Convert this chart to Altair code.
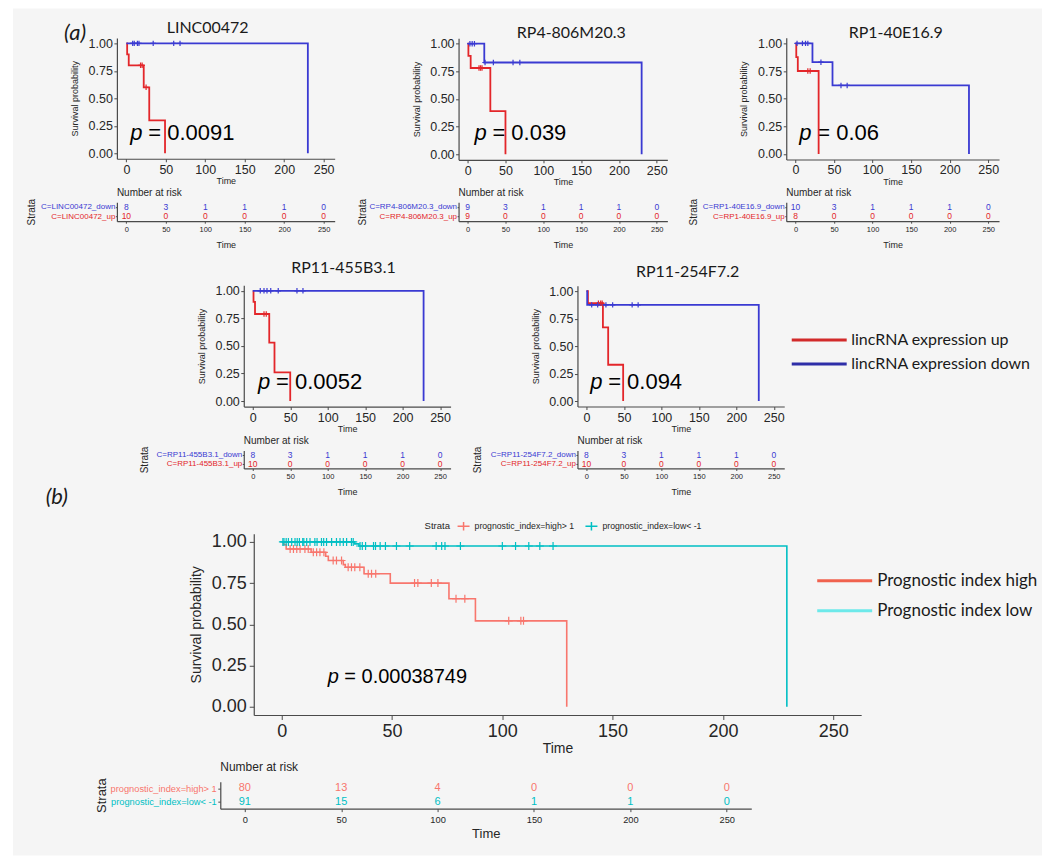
import altair as alt
import pandas as pd

# ------------------------------------------------------------------ data
BREAKS = [0, 50, 100, 150, 200, 250]

GENES = ["LINC00472", "RP4-806M20.3", "RP1-40E16.9", "RP11-455B3.1", "RP11-254F7.2"]
PVALS = ["0.0091", "0.039", "0.06", "0.0052", "0.094"]

# Kaplan-Meier steps, lincRNA expression up (red)
UP_T = [[0, 1, 3, 22, 29, 49], [0, 1, 4, 30, 50], [0, 1, 3, 30], [0, 1, 3, 22, 29, 50], [0, 2, 22, 29, 49]]
UP_S = [[1, 0.9, 0.8, 0.6, 0.3, 0], [1, 0.89, 0.78, 0.39, 0], [1, 0.875, 0.75, 0],
        [1, 0.9, 0.79, 0.53, 0.26, 0], [1, 0.89, 0.67, 0.33, 0]]
UP_CT = [[18, 20, 25], [15, 17, 19], [16, 19], [15, 18], [16, 19, 21]]
UP_CS = [[0.8, 0.8, 0.6], [0.78, 0.78, 0.78], [0.75, 0.75], [0.79, 0.79], [0.89, 0.89, 0.89]]

# Kaplan-Meier steps, lincRNA expression down (blue)
DOWN_T = [[0, 230], [0, 22, 230], [0, 22, 48, 225], [0, 228], [0, 1, 230]]
DOWN_S = [[1, 0], [1, 0.83, 0], [1, 0.83, 0.62, 0], [1, 0], [1, 0.875, 0]]
DOWN_CT = [[8, 10, 14, 16, 34, 60, 68], [3, 6, 9, 23, 34, 60, 69], [2, 9, 13, 16, 33, 59, 67],
           [10, 15, 19, 24, 34, 59, 67], [7, 15, 26, 35, 61, 69]]
DOWN_CS = [[1, 1, 1, 1, 1, 1, 1], [1, 1, 1, 0.83, 0.83, 0.83, 0.83], [1, 1, 1, 1, 0.83, 0.62, 0.62],
           [1, 1, 1, 1, 1, 1, 1], [0.875, 0.875, 0.875, 0.875, 0.875, 0.875]]

RISK_DOWN = [[8, 3, 1, 1, 1, 0], [9, 3, 1, 1, 1, 0], [10, 3, 1, 1, 1, 0], [8, 3, 1, 1, 1, 0], [8, 3, 1, 1, 1, 0]]
RISK_UP = [[10, 0, 0, 0, 0, 0], [9, 0, 0, 0, 0, 0], [8, 0, 0, 0, 0, 0], [10, 0, 0, 0, 0, 0], [10, 0, 0, 0, 0, 0]]

# Panel (b): prognostic index
HIGH_T = [0, 0.8, 2, 13.3, 19.9, 21.1, 27.9, 28.8, 37.3, 49.2, 75.8, 87.8, 129.2]
HIGH_S = [1, 0.984, 0.957, 0.937, 0.913, 0.887, 0.862, 0.846, 0.807, 0.75, 0.655, 0.521, 0]
HIGH_CT = [3.8, 5.3, 6.8, 8.3, 10.5, 12, 14.3, 15.8, 17.3, 19.1, 23.3, 24.8, 27.1, 30.1, 31.6, 33.1,
           35.4, 39.2, 40.7, 42.6, 60.2, 61.7, 67.8, 70.8, 79, 83, 102.9, 108.4, 109.6]
HIGH_CS = [0.957, 0.957, 0.957, 0.957, 0.957, 0.957, 0.937, 0.937, 0.937, 0.937, 0.887, 0.887, 0.887,
           0.846, 0.846, 0.846, 0.846, 0.807, 0.807, 0.807, 0.75, 0.75, 0.75, 0.75, 0.655, 0.655,
           0.521, 0.521, 0.521]
LOW_T = [0, 33, 35, 229]
LOW_S = [1, 0.988, 0.975, 0]
LOW_CT = [0.5, 1, 2, 3, 4.5, 6, 7, 8, 9.5, 10, 11.3, 12.8, 15, 16, 18, 19, 20.3, 22.6, 24.8, 26.4,
          27.9, 29.4, 31.6, 32.4, 35.5, 36.5, 38, 41.6, 42.5, 44.6, 47, 52, 58, 70, 72.5, 74, 81,
          100, 106, 112, 117, 123]
LOW_CS = [1, 1, 1, 1, 1, 1, 1, 1, 1, 1, 1, 1, 1, 1, 1, 1, 1, 1, 1, 1, 1, 1, 1, 1,
          0.975, 0.975, 0.975, 0.975, 0.975, 0.975, 0.975, 0.975, 0.975, 0.975, 0.975, 0.975,
          0.975, 0.975, 0.975, 0.975, 0.975, 0.975]
RISK_HIGH = [80, 13, 4, 0, 0, 0]
RISK_LOW = [91, 15, 6, 1, 1, 0]
B_PVAL = "0.00038749"

LAB_UP = "lincRNA expression up"
LAB_DOWN = "lincRNA expression down"
PROG_HIGH = "Prognostic index high"
PROG_LOW = "Prognostic index low"
STRATA_HIGH = "prognostic_index=high> 1"
STRATA_LOW = "prognostic_index=low< -1"

# ------------------------------------------------------------------ layout & style
W, H = 1030, 848
OX, OY = 13, 8            # page pixel of the view origin
XD = [-12, 264]
XD_B = [-12.7, 262.7]
YD = [-0.05, 1.05]

KM_X = [(117, 335), (459, 668), (787, 1000), (244, 451), (578, 785)]
KM_Y = [(43, 153), (43.3, 154), (43, 153.7), (290.7, 401), (291, 401)]
TAB_Y = [(202, 221), (202, 221), (202, 221), (450.5, 468.5), (450.5, 468.5)]
STRATA_TITLE_X = [32, 363, 694, 145, 478]
B_X, B_Y = (254, 862), (542, 707)
BT_X, BT_Y = (220.5, 752), (782, 809)
B_STRATA_TITLE_X = 102

TITLE_XY = [(103, 1.136), (137, 1.093), (130, 1.09), (121, 1.206), (135, 1.17)]
PV_XY = [(5, 0.18), (9, 0.19), (5, 0.19), (7, 0.17), (5, 0.17)]
A_XY = (-65, 1.09)
B_LAB_XY = (-102, 1.273)
B_PV_XY = (20.8, 0.18)

FONT = "Liberation Sans"
TFONT = "Lato"
INK = "#262626"
AXC = "#4a4a4a"
RED, BLUE = "#e3262a", "#3a3ad2"
SALMON, TEAL = "#F8766D", "#00BFC4"
LEG_RED, LEG_BLUE = "#d22a2a", "#2e2ea8"
PROG_RED, PROG_CYAN = "#f0624e", "#6de9ea"
BG = "#f5f5f5"
CROSS = "M-1,0L1,0M0,-1L0,1"


def xr(pair):
    return [pair[0] - OX, pair[1] - OX]


def yr(pair):
    y1, y0 = pair
    k = y0 - y1
    return [y0 + 0.05 * k - OY, y1 - 0.05 * k - OY]


def km_panel(xpair, ypair, xdom, curves, censors, cdom, crng, texts, big):
    xrange_ = xr(xpair)
    yrange_ = yr(ypair)
    xs = alt.Scale(domain=xdom, range=xrange_, nice=False, zero=False)
    ys = alt.Scale(domain=YD, range=yrange_, nice=False, zero=False)
    cs = alt.Scale(domain=cdom, range=crng)
    lfs = 18 if big else 12.5
    xa = alt.Axis(orient="bottom", offset=yrange_[0] - H, values=BREAKS, title="Time", grid=False,
                  domainColor=AXC, domainWidth=1.2, tickColor=AXC, tickSize=4.5 if big else 3,
                  labelFont=FONT, labelFontSize=lfs, labelColor=INK, labelPadding=3 if big else 1.5,
                  labelFlush=False, labelOverlap=False,
                  titleFont=FONT, titleFontSize=14 if big else 9, titleFontWeight="normal",
                  titleColor=INK, titlePadding=1.5 if big else 1)
    ya = alt.Axis(orient="left", offset=-xrange_[0], values=[0, 0.25, 0.5, 0.75, 1], format=".2f",
                  title="Survival probability", grid=False,
                  domainColor=AXC, domainWidth=1.2, tickColor=AXC, tickSize=4.5 if big else 3,
                  labelFont=FONT, labelFontSize=lfs, labelColor=INK, labelPadding=3 if big else 1.5,
                  labelFlush=False, labelOverlap=False,
                  titleFont=FONT, titleFontSize=14 if big else 9, titleFontWeight="normal",
                  titleColor=INK, titlePadding=7.5 if big else 8.5)

    line_df = pd.concat([pd.DataFrame({"t": t, "s": s, "g": g}) for t, s, g in curves])
    cens_df = pd.concat([pd.DataFrame({"t": t, "s": s, "g": g}) for t, s, g in censors])

    if big:
        leg = alt.Legend(orient="none", legendX=425 - OX, legendY=525 - OY - 6, direction="horizontal",
                         title="Strata", titleOrient="left", titleFont=FONT, titleFontSize=9.5,
                         titleFontWeight="normal", titleColor=INK, titlePadding=6,
                         symbolType="M-1,0L1,0M0,-0.7L0,0.7", symbolSize=144, symbolStrokeWidth=1.5,
                         labelFont=FONT, labelFontSize=8.7, labelColor=INK, labelOffset=4,
                         columnPadding=8, labelLimit=300, padding=0)
    else:
        leg = None

    X = alt.X("t:Q", scale=xs, axis=xa)
    Y = alt.Y("s:Q", scale=ys, axis=ya)
    layers = []
    for (tx, ty, label, mk) in texts:
        df = pd.DataFrame({"t": [tx], "s": [ty], "label": [label]})
        layers.append(alt.Chart(df).mark_text(**mk).encode(x=X, y=Y, text="label:N"))

    layers.append(alt.Chart(line_df).mark_line(interpolate="step-after", strokeWidth=1.6 if big else 1.8).encode(
        x=X, y=Y, color=alt.Color("g:N", scale=cs, legend=leg)))
    layers.append(alt.Chart(cens_df).mark_point(shape=CROSS, filled=False, size=64 if big else 30,
                                                strokeWidth=1.2, opacity=1).encode(
        x=X, y=Y, color=alt.Color("g:N", scale=cs, legend=leg)))
    return alt.layer(*layers)


def table_panel(xpair, ypair, xdom, strata, top, bot, cols, title_x, big):
    xs = alt.Scale(domain=xdom, range=xr(xpair), nice=False, zero=False)
    ys = alt.Scale(domain=strata, range=[ypair[0] - OY, ypair[1] - OY], padding=0.5)
    cs = alt.Scale(domain=strata, range=cols)
    key = "high" if big else "_down"
    xa = alt.Axis(orient="bottom", offset=ypair[1] - OY - H, values=BREAKS, title="Time", grid=False,
                  domainColor=AXC, domainWidth=1.2, tickColor=AXC, tickSize=3 if big else 2,
                  labelFont=FONT, labelFontSize=9.3 if big else 7.5, labelColor=INK,
                  labelPadding=4 if big else 2, labelFlush=False, labelOverlap=False,
                  titleFont=FONT, titleFontSize=13 if big else 9, titleFontWeight="normal",
                  titleColor=INK, titlePadding=3 if big else 8)
    ya = alt.Axis(orient="left", offset=-(xpair[0] - OX), title="Strata", grid=False,
                  domainColor=AXC, domainWidth=1.2, tickColor=AXC, tickSize=2.5 if big else 1.5,
                  labelFont=FONT, labelFontSize=9.3 if big else 8, labelPadding=1.5 if big else 0.5,
                  labelColor={"expr": f"indexof(datum.label, '{key}') >= 0 ? '{cols[0]}' : '{cols[1]}'"},
                  labelLimit=300,
                  titleFont=FONT, titleFontSize=13 if big else 10, titleFontWeight="normal",
                  titleColor=INK, titleX=title_x - xpair[0], titleBaseline="middle")
    X = alt.X("t:Q", scale=xs, axis=xa)
    Y = alt.Y("st:N", scale=ys, axis=ya)
    df = pd.DataFrame({"t": BREAKS + BREAKS, "st": [strata[0]] * 6 + [strata[1]] * 6, "n": top + bot})
    nums = alt.Chart(df).mark_text(font=FONT, fontSize=11 if big else 8.5).encode(
        x=X, y=Y, text="n:Q", color=alt.Color("st:N", scale=cs, legend=None))
    head_df = pd.DataFrame({"t": [xdom[0]], "st": [strata[0]], "label": ["Number at risk"]})
    head = alt.Chart(head_df).mark_text(font=FONT, fontSize=12 if big else 10, color=INK, align="left",
                                        dy=-21 if big else -14).encode(x=X, y=Y, text="label:N")
    return alt.layer(nums, head)


def text_style(kind, big=False):
    if kind == "title":
        return dict(font=TFONT, fontSize=16, color="#1a1a1a", align="center", baseline="middle")
    if kind == "p":
        return dict(font=FONT, fontSize=20 if big else 22, fontStyle="italic", color="black",
                    align="left", baseline="middle")
    if kind == "pv":
        return dict(font=FONT, fontSize=20 if big else 22, color="black", align="left",
                    baseline="middle", dx=16.7 if big else 18)
    return dict(font=TFONT, fontSize=22, fontStyle="italic", color="#1a1a1a", align="center",
                baseline="middle")


panels = []
for i, gene in enumerate(GENES):
    texts = [(TITLE_XY[i][0], TITLE_XY[i][1], gene, text_style("title")),
             (PV_XY[i][0], PV_XY[i][1], "p", text_style("p")),
             (PV_XY[i][0], PV_XY[i][1], "= " + PVALS[i], text_style("pv"))]
    if i == 0:
        texts.append((A_XY[0], A_XY[1], "(a)", text_style("lab")))
    panels.append(km_panel(KM_X[i], KM_Y[i], XD,
                           [(UP_T[i], UP_S[i], LAB_UP), (DOWN_T[i], DOWN_S[i], LAB_DOWN)],
                           [(UP_CT[i], UP_CS[i], LAB_UP), (DOWN_CT[i], DOWN_CS[i], LAB_DOWN)],
                           [LAB_UP, LAB_DOWN], [RED, BLUE], texts, False))
    panels.append(table_panel(KM_X[i], TAB_Y[i], XD, [f"C={gene}_down", f"C={gene}_up"],
                              RISK_DOWN[i], RISK_UP[i], [BLUE, RED], STRATA_TITLE_X[i], False))

b_texts = [(B_LAB_XY[0], B_LAB_XY[1], "(b)", text_style("lab")),
           (B_PV_XY[0], B_PV_XY[1], "p", text_style("p", True)),
           (B_PV_XY[0], B_PV_XY[1], "= " + B_PVAL, text_style("pv", True))]
panels.append(km_panel(B_X, B_Y, XD_B,
                       [(HIGH_T, HIGH_S, STRATA_HIGH), (LOW_T, LOW_S, STRATA_LOW)],
                       [(HIGH_CT, HIGH_CS, STRATA_HIGH), (LOW_CT, LOW_CS, STRATA_LOW)],
                       [STRATA_HIGH, STRATA_LOW], [SALMON, TEAL], b_texts, True))
panels.append(table_panel(BT_X, BT_Y, XD_B, [STRATA_HIGH, STRATA_LOW], RISK_HIGH, RISK_LOW,
                          [SALMON, TEAL], B_STRATA_TITLE_X, True))


# side legends: key line + label (one-point lines draw nothing, only the legend shows)
def side_legend(labels, colors, lx, ly, fs, pad, sw):
    df = pd.DataFrame({"g": labels, "kx": [0, 0], "ky": [0, 0]})
    leg = alt.Legend(orient="none", legendX=lx - OX, legendY=ly - OY, direction="vertical", title=None,
                     symbolType="M-5,0L5,0", symbolSize=121, symbolStrokeWidth=sw, symbolOffset=22,
                     labelOffset=24, labelFont=TFONT, labelFontSize=fs, labelColor="#1a1a1a",
                     labelLimit=400, rowPadding=pad, padding=0)
    return alt.Chart(df).mark_line().encode(
        x=alt.X("kx:Q", axis=None), y=alt.Y("ky:Q", axis=None),
        color=alt.Color("g:N", scale=alt.Scale(domain=labels, range=colors), legend=leg))


panels.append(side_legend([LAB_UP, LAB_DOWN], [LEG_RED, LEG_BLUE], 790, 332, 16, 8, 3))
panels.append(side_legend([PROG_HIGH, PROG_LOW], [PROG_RED, PROG_CYAN], 815, 572.5, 17, 12, 3))

chart = alt.layer(*panels).resolve_scale(
    x="independent", y="independent", color="independent"
).properties(
    width=W, height=H,
    autosize=alt.AutoSizeParams(type="none"),
    padding={"left": 5, "top": 0, "right": 0, "bottom": 0},
).configure(background="white").configure_view(fill=BG, stroke=None)

chart.save("out.html", embed_options={"renderer": "svg", "actions": False})
